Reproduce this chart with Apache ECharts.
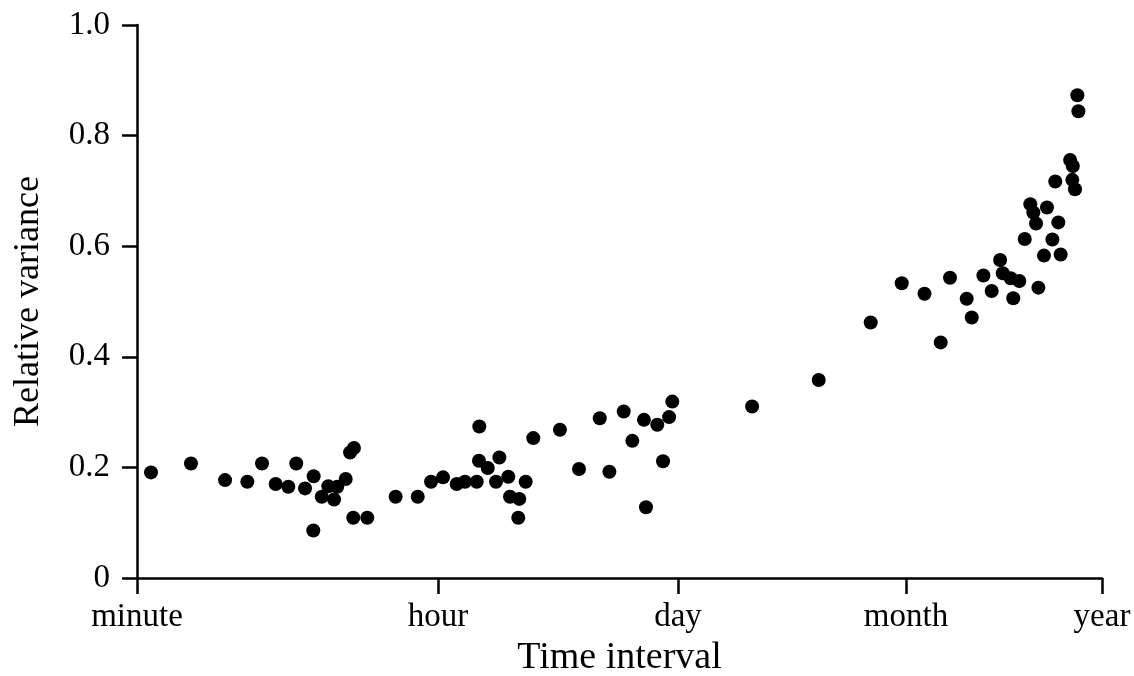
<!DOCTYPE html>
<html>
<head>
<meta charset="utf-8">
<script src="https://cdn.jsdelivr.net/npm/echarts@6/dist/echarts.min.js"></script>
<style>
  html, body { margin: 0; padding: 0; background: #fff; }
  #chart { width: 1134px; height: 676px; }
</style>
</head>
<body>
<div id="chart"></div>
<script>
// x: time interval, in log10(minutes) as placed on the reference axis
const tickNames = ['minute', 'hour', 'day', 'month', 'year'];
const tickPositions = [0, 1.784, 3.207, 4.558, 5.72];
const yTicks = [0, 0.2, 0.4, 0.6, 0.8, 1.0];

const intervalLog = [
  0.083, 0.320, 0.522, 0.654, 0.741, 0.822, 0.897, 0.944, 0.996, 1.047,
  1.045, 1.095, 1.134, 1.168, 1.187, 1.237, 1.263, 1.286, 1.282, 1.365,
  1.533, 1.664, 1.743, 1.814, 1.895, 1.944, 2.014, 2.029, 2.027, 2.079,
  2.148, 2.128, 2.201, 2.211, 2.266, 2.260, 2.304, 2.349, 2.507, 2.620,
  2.743, 2.800, 2.885, 2.936, 3.005, 3.017, 3.084, 3.118, 3.154, 3.173,
  3.646, 4.041, 4.349, 4.533, 4.668, 4.819, 4.764, 5.574, 5.580, 5.531,
  5.547, 5.443, 5.544, 5.560, 5.295, 5.313, 5.329, 5.394, 5.461, 5.262,
  5.426, 5.376, 5.475, 5.116, 5.017, 5.132, 5.179, 5.230, 5.343, 5.066,
  5.194, 4.918, 4.948
];
const relVariance = [
  0.191, 0.207, 0.177, 0.174, 0.207, 0.170, 0.165, 0.207, 0.162, 0.184,
  0.086, 0.147, 0.166, 0.142, 0.165, 0.179, 0.227, 0.235, 0.109, 0.109,
  0.147, 0.147, 0.174, 0.182, 0.170, 0.174, 0.174, 0.274, 0.212, 0.199,
  0.218, 0.174, 0.183, 0.147, 0.143, 0.109, 0.174, 0.253, 0.268, 0.197,
  0.289, 0.192, 0.301, 0.248, 0.286, 0.128, 0.277, 0.211, 0.291, 0.319,
  0.310, 0.358, 0.462, 0.533, 0.514, 0.543, 0.426, 0.873, 0.844, 0.756,
  0.745, 0.717, 0.720, 0.703, 0.676, 0.661, 0.641, 0.670, 0.643, 0.613,
  0.612, 0.583, 0.585, 0.575, 0.547, 0.551, 0.542, 0.537, 0.525, 0.519,
  0.506, 0.505, 0.471
];

const points = intervalLog.map((x, i) => [x, relVariance[i]]);
const FONT = '"Liberation Serif", "Times New Roman", serif';
const lineStyle = { color: '#000', width: 2.5 };

const chart = echarts.init(document.getElementById('chart'), null, { renderer: 'canvas' });
chart.setOption({
  animation: false,
  backgroundColor: '#fff',
  grid: { left: 137, right: 32, top: 25, bottom: 98, containLabel: false, outerBoundsMode: 'none' },
  xAxis: {
    type: 'value',
    min: tickPositions[0],
    max: tickPositions[tickPositions.length - 1],
    name: 'Time interval',
    nameLocation: 'middle',
    nameGap: 60,
    nameTextStyle: { fontFamily: FONT, fontSize: 38, color: '#000' },
    axisLine: { show: true, onZero: false, lineStyle: lineStyle },
    axisTick: { show: true, length: 16, lineStyle: lineStyle, customValues: tickPositions },
    axisLabel: {
      customValues: tickPositions,
      fontFamily: FONT, fontSize: 33, color: '#000', margin: 23,
      formatter: function (v) {
        let best = 0;
        for (let i = 0; i < tickPositions.length; i++) {
          if (Math.abs(tickPositions[i] - v) < Math.abs(tickPositions[best] - v)) best = i;
        }
        return tickNames[best];
      }
    },
    splitLine: { show: false }
  },
  yAxis: {
    type: 'value',
    min: yTicks[0],
    max: yTicks[yTicks.length - 1],
    interval: 0.2,
    name: 'Relative variance',
    nameLocation: 'middle',
    nameGap: 90,
    nameTextStyle: { fontFamily: FONT, fontSize: 36, color: '#000' },
    axisLine: { show: true, lineStyle: lineStyle },
    axisTick: { show: true, length: 15, lineStyle: lineStyle },
    axisLabel: {
      fontFamily: FONT, fontSize: 33, color: '#000', margin: 27,
      formatter: function (v) { return v === 0 ? '0' : v.toFixed(1); }
    },
    splitLine: { show: false }
  },
  series: [{
    type: 'scatter',
    data: points,
    symbol: 'circle',
    symbolSize: 14,
    itemStyle: { color: '#000', opacity: 1 },
    emphasis: { disabled: true }
  }]
});
</script>
</body>
</html>
